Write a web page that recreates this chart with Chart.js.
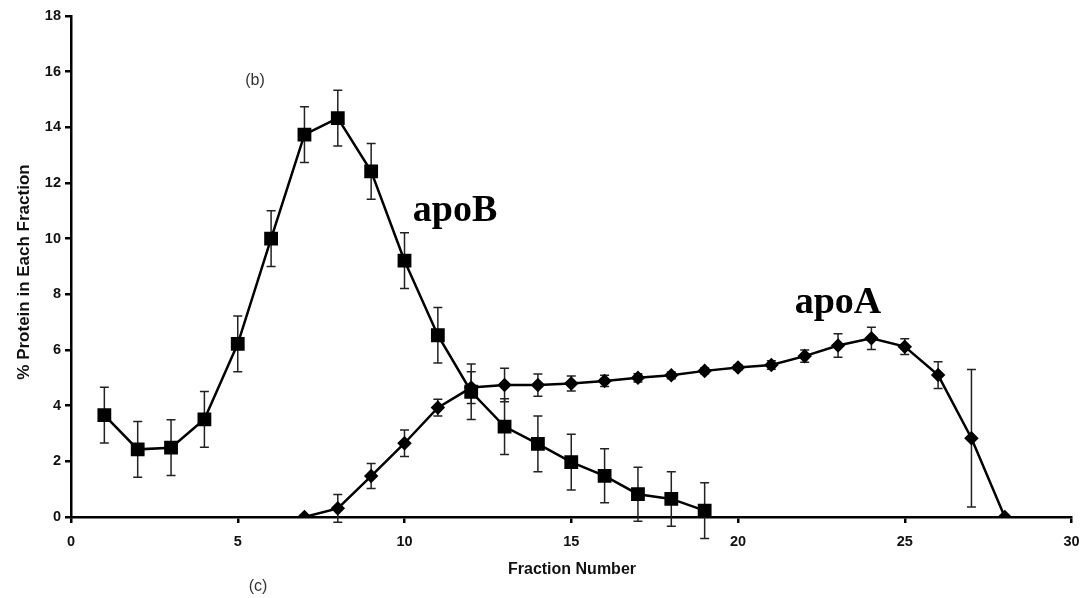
<!DOCTYPE html>
<html lang="en">
<head>
    <meta charset="UTF-8">
    <title>apoB / apoA fractions</title>
    <script src="https://cdn.jsdelivr.net/npm/chart.js"></script>
    <style>
        body { margin: 0; background: #fff; }
        #chart { display: block; }
    </style>
</head>
<body>
    <canvas id="chart" width="1082" height="598"></canvas>
    <script>
        // values
        const apoBFractions = [1, 2, 3, 4, 5, 6, 7, 8, 9, 10, 11, 12, 13, 14, 15, 16, 17, 18, 19];
        const apoBValues = [3.66, 2.43, 2.49, 3.51, 6.22, 10.0, 13.74, 14.33, 12.42, 9.21, 6.53, 4.5, 3.25, 2.63, 1.97, 1.48, 0.82, 0.65, 0.23];
        const apoBErrors = [1.0, 1.0, 1.0, 1.0, 1.0, 1.0, 1.0, 1.0, 1.0, 1.0, 1.0, 1.0, 1.0, 1.0, 1.0, 0.97, 0.97, 0.98, 1.0];

        const apoAFractions = [7, 8, 9, 10, 11, 12, 13, 14, 15, 16, 17, 18, 19, 20, 21, 22, 23, 24, 25, 26, 27, 28];
        const apoAValues = [0, 0.31, 1.47, 2.65, 3.93, 4.65, 4.74, 4.74, 4.80, 4.89, 5.0, 5.09, 5.25, 5.37, 5.46, 5.78, 6.16, 6.42, 6.12, 5.10, 2.83, 0];
        const apoAErrors = [0, 0.5, 0.45, 0.48, 0.3, 0.57, 0.6, 0.4, 0.27, 0.2, 0.15, 0.12, 0.1, 0.1, 0.15, 0.22, 0.42, 0.4, 0.28, 0.48, 2.47, 0];

        const xTicks = [0, 5, 10, 15, 20, 25, 30];
        const yTicks = [0, 2, 4, 6, 8, 10, 12, 14, 16, 18];

        function toPoints(xs, ys) {
            return xs.map((x, i) => ({ x: x, y: ys[i] }));
        }

        // error bars drawn behind the lines
        const errorBars = {
            id: 'errorBars',
            beforeDatasetsDraw(chart) {
                const ctx = chart.ctx;
                const xs = chart.scales.x, ys = chart.scales.y;
                const sets = [
                    [apoBFractions, apoBValues, apoBErrors],
                    [apoAFractions, apoAValues, apoAErrors]
                ];
                ctx.save();
                ctx.strokeStyle = '#222';
                ctx.lineWidth = 1.5;
                sets.forEach(([fx, vals, errs]) => {
                    fx.forEach((f, i) => {
                        if (!errs[i]) return;
                        const px = xs.getPixelForValue(f);
                        const top = ys.getPixelForValue(vals[i] + errs[i]);
                        const bot = ys.getPixelForValue(vals[i] - errs[i]);
                        ctx.beginPath();
                        ctx.moveTo(px, top); ctx.lineTo(px, bot);
                        ctx.moveTo(px - 4.5, top); ctx.lineTo(px + 4.5, top);
                        ctx.moveTo(px - 4.5, bot); ctx.lineTo(px + 4.5, bot);
                        ctx.stroke();
                    });
                });
                ctx.restore();
            }
        };

        // axis titles and panel labels
        const labels = {
            id: 'labels',
            afterDraw(chart) {
                const ctx = chart.ctx;
                ctx.save();
                ctx.fillStyle = '#111';
                ctx.textAlign = 'center';
                ctx.textBaseline = 'middle';
                ctx.font = 'bold 16px "Liberation Sans", Arial, sans-serif';
                ctx.fillText('Fraction Number', 572, 570);
                ctx.save();
                ctx.translate(24, 272);
                ctx.rotate(-Math.PI / 2);
                ctx.font = 'bold 17px "Liberation Sans", Arial, sans-serif';
                ctx.fillText('% Protein in Each Fraction', 0, 0);
                ctx.restore();
                ctx.font = '16px "Liberation Sans", Arial, sans-serif';
                ctx.fillStyle = '#333';
                ctx.fillText('(b)', 255, 81);
                ctx.fillText('(c)', 258, 587);
                ctx.fillStyle = '#000';
                ctx.textBaseline = 'alphabetic';
                ctx.font = 'bold 38px "Liberation Serif", "Times New Roman", serif';
                ctx.fillText('apoB', 455, 221);
                ctx.fillText('apoA', 838, 313);
                ctx.restore();
            }
        };

        const ctx = document.getElementById('chart').getContext('2d');
        new Chart(ctx, {
            type: 'line',
            data: {
                datasets: [{
                    label: 'apoB',
                    data: toPoints(apoBFractions, apoBValues),
                    borderColor: '#000',
                    backgroundColor: '#000',
                    borderWidth: 2.5,
                    pointStyle: 'rect',
                    pointRadius: 8,
                    pointHoverRadius: 8,
                    tension: 0
                }, {
                    label: 'apoA',
                    data: toPoints(apoAFractions, apoAValues),
                    borderColor: '#000',
                    backgroundColor: '#000',
                    borderWidth: 2.5,
                    pointStyle: 'rectRot',
                    pointRadius: 5.5,
                    pointHoverRadius: 5.5,
                    tension: 0
                }]
            },
            options: {
                responsive: false,
                animation: false,
                layout: { padding: { top: 16, right: 9, left: 0, bottom: 0 } },
                plugins: {
                    legend: { display: false },
                    tooltip: { enabled: false }
                },
                scales: {
                    x: {
                        type: 'linear',
                        min: 0,
                        max: 30,
                        afterBuildTicks: s => { s.ticks = xTicks.map(v => ({ value: v })); },
                        afterFit: s => { s.height = 81; s.paddingRight = 0; s.paddingLeft = 0; },
                        grid: { drawOnChartArea: false, color: '#000', lineWidth: 2.5, tickLength: 6 },
                        border: { color: '#000', width: 2.5 },
                        ticks: {
                            color: '#111',
                            padding: 10,
                            maxRotation: 0,
                            font: { family: '"Liberation Sans", Arial, sans-serif', size: 14.5, weight: 'bold' }
                        }
                    },
                    y: {
                        min: 0,
                        max: 18,
                        afterBuildTicks: s => { s.ticks = yTicks.map(v => ({ value: v })); },
                        afterFit: s => { s.width = 71; s.paddingTop = 0; s.paddingBottom = 0; },
                        grid: { drawOnChartArea: false, color: '#000', lineWidth: 2.5, tickLength: 6 },
                        border: { color: '#000', width: 2.5 },
                        ticks: {
                            color: '#111',
                            padding: 4,
                            font: { family: '"Liberation Sans", Arial, sans-serif', size: 14.5, weight: 'bold' }
                        }
                    }
                }
            },
            plugins: [errorBars, labels]
        });
    </script>
</body>
</html>
